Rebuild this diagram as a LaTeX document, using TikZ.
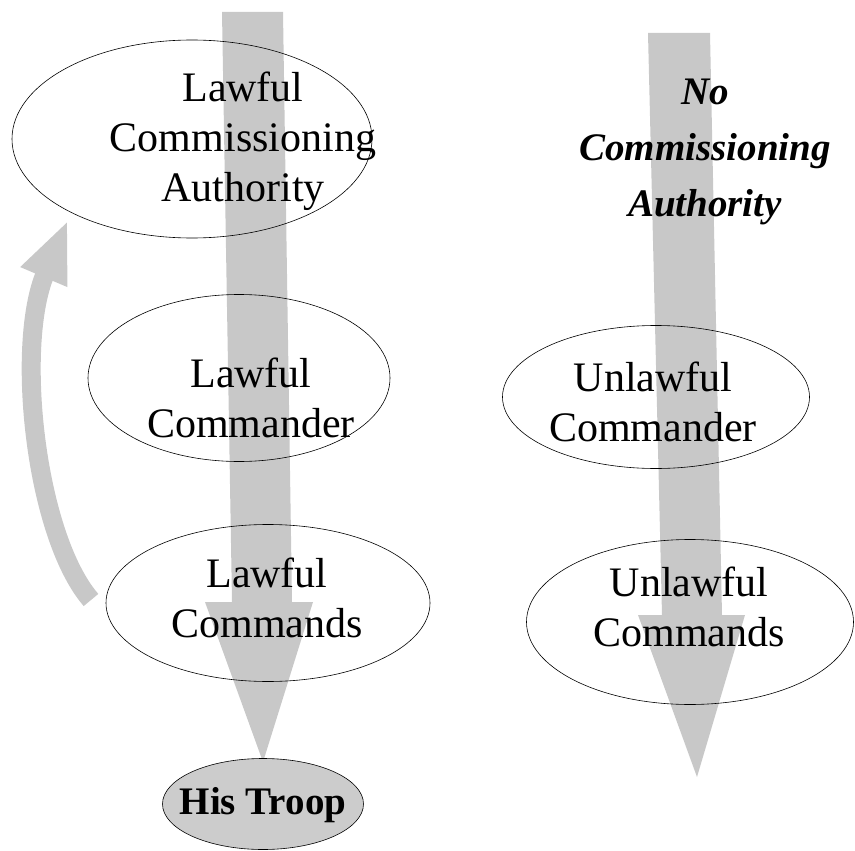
\documentclass[tikz,border=0pt]{standalone}
\usepackage{fontspec}
\setmainfont{Liberation Serif}
\definecolor{flowgray}{RGB}{200, 200, 200}
\definecolor{troopgray}{RGB}{204, 204, 204}
\usetikzlibrary{
  arrows.meta,
  shapes.geometric,
}
\tikzset{
  ring/.style={draw,ellipse,line width=0.6pt,inner sep=0pt},
  words/.style={align=center,font=\fontsize{42}{50}\selectfont},
  bigwords/.style={align=center,font=\fontsize{39}{56}\selectfont\bfseries\itshape},
}

\begin{document}
\begin{tikzpicture}[x=1pt,y=-1pt]
      \useasboundingbox (0,0) rectangle (855,851);

      % the two broad downward arrows
      \fill[flowgray] (222,12) -- (283,12) -- (292,602) -- (313,602) -- (263,762) -- (205,602) -- (232,602) -- cycle;
      \fill[flowgray] (648,33) -- (710,33) -- (722,615) -- (745,615) -- (697,777) -- (638,615) -- (662,615) -- cycle;

      \node[ring,minimum width=360,minimum height=198]    (authority)   at (192,139)   {};
      \node[ring,minimum width=302,minimum height=167]    (commander)   at (239,378)   {};
      \node[ring,minimum width=324,minimum height=157]    (commands)    at (268,603)   {};
      \node[ring,minimum width=201,minimum height=91,fill=troopgray]    (troop)   at (263,804)   {};
      \node[ring,minimum width=307,minimum height=143]    (ucommander)  at (656,397)   {};
      \node[ring,minimum width=327,minimum height=165]    (ucommands)   at (690,622)   {};

      \node[words]    (authoritytext)   at (243,141)   {Lawful\\Commissioning\\Authority};
      \node[words]    (commandertext)   at (251,398)   {Lawful\\Commander};
      \node[words]    (commandstext)    at (267,598)   {Lawful\\Commands};
      \node[font=\fontsize{39}{45}\selectfont\bfseries]    (trooptext)   at (263,805)   {His Troop};
      \node[bigwords]    (notext)    at (705,152)   {No\\Commissioning\\Authority};
      \node[words]    (ucommandertext)  at (653,402)   {Unlawful\\Commander};
      \node[words]    (ucommandstext)   at (689,607)   {Unlawful\\Commands};

      % the curved arrow back up to the authority
      \coordinate (back) at (91,600);
      \coordinate (up) at (68,220);
      \draw[flowgray,line width=19pt,-{Triangle[length=62pt,width=46pt]}] (back) .. controls (35,535) and (15,345) .. (up);
    \end{tikzpicture}
\end{document}
